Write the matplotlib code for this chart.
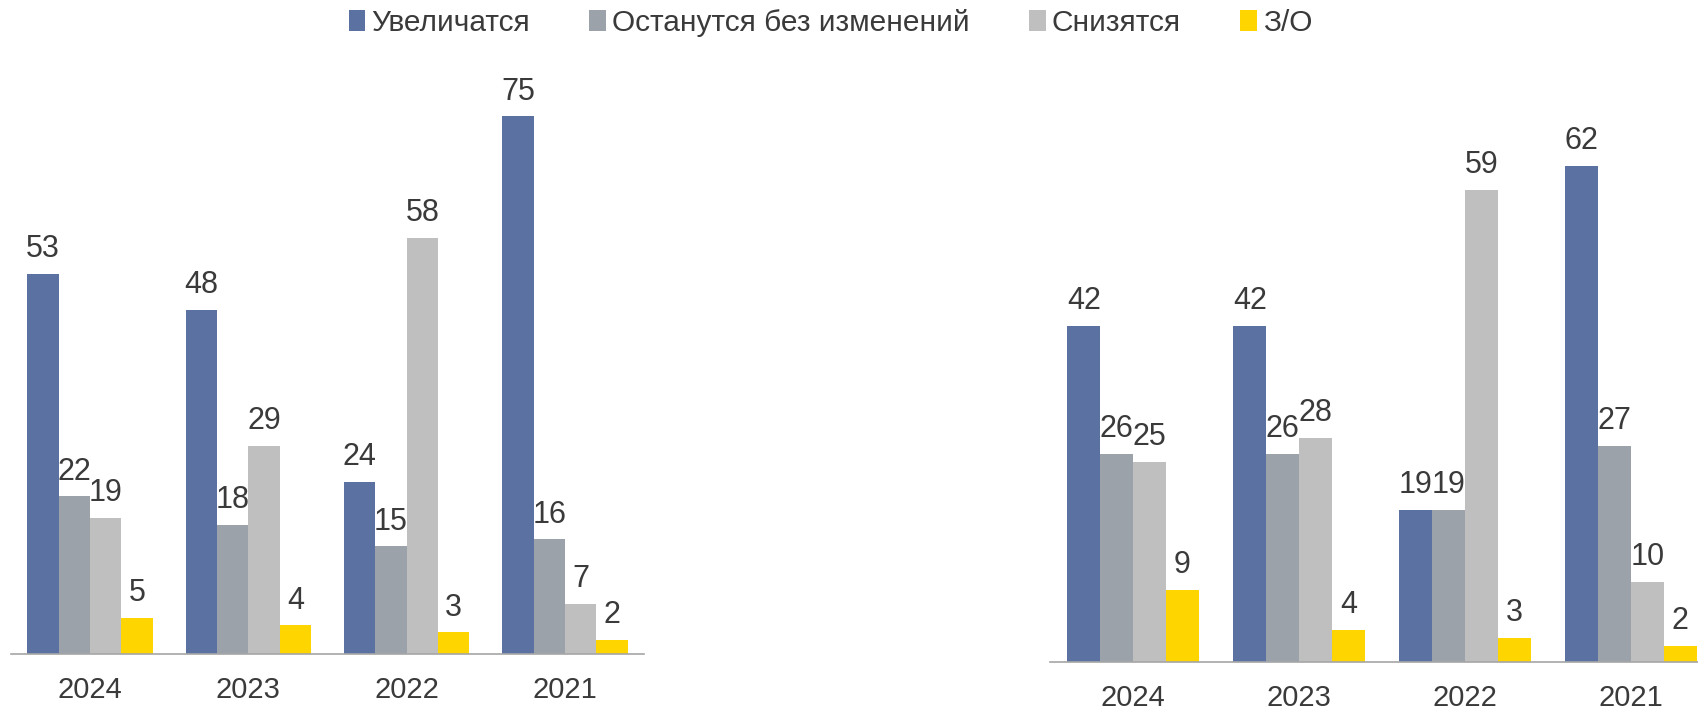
import matplotlib
matplotlib.use("Agg")
import matplotlib.pyplot as plt
import numpy as np
from matplotlib.patches import Patch

plt.rcParams['font.family'] = ['Liberation Sans', 'DejaVu Sans']

years = ["2024", "2023", "2022", "2021"]
series_names = ["Увеличатся", "Останутся без изменений", "Снизятся", "З/О"]
colors = ["#5B71A2", "#9BA2A9", "#BFBFBF", "#FFD500"]

left_increase = [53, 48, 24, 75]
left_same = [22, 18, 15, 16]
left_decrease = [19, 29, 58, 7]
left_na = [5, 4, 3, 2]

right_increase = [42, 42, 19, 62]
right_same = [26, 26, 19, 27]
right_decrease = [25, 28, 59, 10]
right_na = [9, 4, 3, 2]

text_color = "#3A3A3A"
W, H = 1698, 710
fig = plt.figure(figsize=(W / 100, H / 100), dpi=100)


def draw(ax, data, ymax):
    x = np.arange(len(years))
    bw = 0.198
    for i, (vals, c) in enumerate(zip(data, colors)):
        pos = x + (i - 1.5) * bw
        bars = ax.bar(pos, vals, width=bw, color=c, linewidth=0)
        for b, v in zip(bars, vals):
            ax.annotate(str(v), (b.get_x() + b.get_width() / 2, b.get_height()),
                        xytext=(0, 7), textcoords="offset points",
                        ha="center", va="bottom", fontsize=22, color=text_color)
    ax.set_xlim(-0.5, 3.5)
    ax.set_ylim(0, ymax)
    ax.set_xticks(x)
    ax.set_xticklabels(years, fontsize=21, color=text_color)
    ax.tick_params(axis="x", length=0, pad=16)
    ax.set_yticks([])
    for s in ["top", "left", "right"]:
        ax.spines[s].set_visible(False)
    ax.spines["bottom"].set_color("#A6A6A6")
    ax.spines["bottom"].set_linewidth(1.2)
    ax.patch.set_alpha(0)


# left chart: baseline at y=654 px, 7.17 px per unit
ymax_l = 80
axl = fig.add_axes([11 / W, (H - 654) / H, 633 / W, ymax_l * 7.17 / H])
draw(axl, [left_increase, left_same, left_decrease, left_na], ymax_l)

# right chart: baseline at y=662 px, 8.0 px per unit
ymax_r = 70
axr = fig.add_axes([1050 / W, (H - 662) / H, 664 / W, ymax_r * 8.0 / H])
draw(axr, [right_increase, right_same, right_decrease, right_na], ymax_r)

handles = [Patch(facecolor=c, edgecolor="none") for c in colors]
fig.legend(handles, series_names, loc="center", bbox_to_anchor=(0.489, 0.968),
           ncol=4, frameon=False, fontsize=21.5, handlelength=0.55, handleheight=0.7,
           handletextpad=0.2, columnspacing=2.0, labelcolor=text_color)

fig.savefig("out.png", dpi=100)
